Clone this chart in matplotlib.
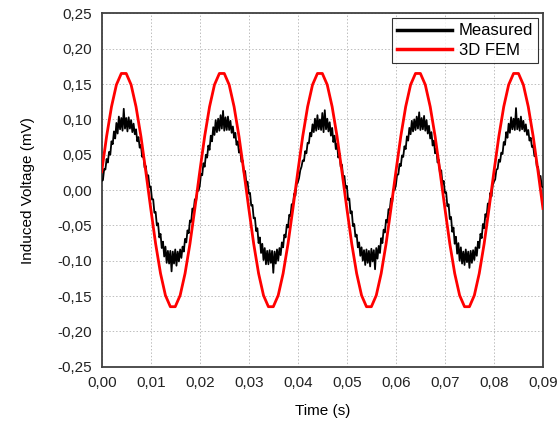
import matplotlib
matplotlib.use("Agg")
import matplotlib.pyplot as plt
import numpy as np
from matplotlib.ticker import FuncFormatter, MultipleLocator

plt.rcParams['font.family'] = ['Liberation Sans', 'DejaVu Sans']

# 3D FEM curve, sampled every 1 ms (0.000 .. 0.090 s)
fem_t_step = 0.001
fem_values = [
    0.026, 0.076, 0.118, 0.149, 0.165, 0.165, 0.149, 0.118, 0.076, 0.026,
    -0.026, -0.076, -0.118, -0.149, -0.165, -0.165, -0.149, -0.118, -0.076, -0.026,
    0.026, 0.076, 0.118, 0.149, 0.165, 0.165, 0.149, 0.118, 0.076, 0.026,
    -0.026, -0.076, -0.118, -0.149, -0.165, -0.165, -0.149, -0.118, -0.076, -0.026,
    0.026, 0.076, 0.118, 0.149, 0.165, 0.165, 0.149, 0.118, 0.076, 0.026,
    -0.026, -0.076, -0.118, -0.149, -0.165, -0.165, -0.149, -0.118, -0.076, -0.026,
    0.026, 0.076, 0.118, 0.149, 0.165, 0.165, 0.149, 0.118, 0.076, 0.026,
    -0.026, -0.076, -0.118, -0.149, -0.165, -0.165, -0.149, -0.118, -0.076, -0.026,
    0.026, 0.076, 0.118, 0.149, 0.165, 0.165, 0.149, 0.118, 0.076, 0.026,
    -0.026,
]

# Measured curve, sampled every 0.25 ms (0.00000 .. 0.09000 s)
meas_t_step = 0.00025
measured_values = [
    # 0.00 - 0.02 s
    0.013, 0.014, 0.030, 0.029, 0.044, 0.039, 0.054, 0.050, 0.069, 0.065,
    0.083, 0.073, 0.095, 0.080, 0.104, 0.086, 0.102, 0.084, 0.115, 0.087,
    0.102, 0.083, 0.103, 0.087, 0.099, 0.082, 0.094, 0.079, 0.086, 0.069,
    0.075, 0.060, 0.064, 0.047, 0.050, 0.032, 0.034, 0.017, 0.021, 0.004,
    0.005, -0.013, -0.013, -0.032, -0.031, -0.050, -0.047, -0.067, -0.062, -0.082,
    -0.073, -0.094, -0.080, -0.103, -0.086, -0.104, -0.086, -0.115, -0.087, -0.104,
    -0.084, -0.107, -0.087, -0.101, -0.084, -0.096, -0.080, -0.087, -0.069, -0.074,
    -0.057, -0.061, -0.043, -0.045, -0.026, -0.029, -0.013, -0.016, 0.000, -0.001,
    # 0.02 - 0.04 s
    0.006, 0.023, 0.021, 0.038, 0.033, 0.050, 0.046, 0.063, 0.057, 0.077,
    0.069, 0.089, 0.078, 0.099, 0.082, 0.101, 0.084, 0.106, 0.087, 0.112,
    0.084, 0.103, 0.085, 0.104, 0.085, 0.098, 0.081, 0.090, 0.074, 0.081,
    0.064, 0.069, 0.053, 0.058, 0.040, 0.042, 0.024, 0.027, 0.010, 0.012,
    -0.005, -0.004, -0.022, -0.021, -0.040, -0.039, -0.058, -0.054, -0.075, -0.067,
    -0.089, -0.076, -0.099, -0.082, -0.105, -0.086, -0.105, -0.085, -0.103, -0.086,
    -0.117, -0.087, -0.104, -0.084, -0.100, -0.082, -0.092, -0.074, -0.081, -0.063,
    -0.067, -0.049, -0.053, -0.035, -0.037, -0.020, -0.022, -0.005, -0.008, 0.008,
    # 0.04 - 0.06 s
    0.011, 0.017, 0.028, 0.033, 0.042, 0.041, 0.055, 0.052, 0.067, 0.066,
    0.081, 0.076, 0.093, 0.082, 0.101, 0.084, 0.106, 0.086, 0.100, 0.085,
    0.109, 0.082, 0.113, 0.086, 0.101, 0.083, 0.096, 0.077, 0.088, 0.068,
    0.077, 0.058, 0.066, 0.046, 0.052, 0.033, 0.036, 0.016, 0.020, 0.003,
    0.006, -0.014, -0.012, -0.033, -0.030, -0.051, -0.048, -0.066, -0.063, -0.081,
    -0.074, -0.093, -0.081, -0.100, -0.085, -0.106, -0.084, -0.103, -0.086, -0.108,
    -0.083, -0.101, -0.085, -0.112, -0.082, -0.097, -0.079, -0.089, -0.068, -0.075,
    -0.056, -0.060, -0.042, -0.046, -0.027, -0.028, -0.012, -0.017, 0.001, 0.000,
    # 0.06 - 0.08 s
    0.007, 0.022, 0.022, 0.037, 0.034, 0.049, 0.047, 0.062, 0.058, 0.076,
    0.070, 0.088, 0.079, 0.098, 0.083, 0.100, 0.085, 0.104, 0.087, 0.110,
    0.085, 0.102, 0.086, 0.105, 0.084, 0.099, 0.080, 0.091, 0.073, 0.082,
    0.063, 0.070, 0.052, 0.059, 0.039, 0.043, 0.023, 0.028, 0.009, 0.013,
    -0.004, -0.003, -0.023, -0.020, -0.041, -0.038, -0.059, -0.053, -0.076, -0.066,
    -0.090, -0.075, -0.100, -0.081, -0.104, -0.087, -0.106, -0.084, -0.102, -0.087,
    -0.110, -0.086, -0.103, -0.085, -0.099, -0.081, -0.093, -0.073, -0.082, -0.062,
    -0.068, -0.048, -0.054, -0.034, -0.038, -0.019, -0.023, -0.004, -0.009, 0.007,
    # 0.08 - 0.09 s
    0.012, 0.015, 0.029, 0.030, 0.043, 0.040, 0.053, 0.051, 0.068, 0.064,
    0.082, 0.074, 0.094, 0.081, 0.103, 0.086, 0.101, 0.085, 0.116, 0.086,
    0.101, 0.084, 0.104, 0.086, 0.098, 0.083, 0.093, 0.078, 0.085, 0.070,
    0.074, 0.061, 0.063, 0.048, 0.049, 0.033, 0.033, 0.018, 0.020, 0.005,
    0.004,
]

series_labels = ["Measured", "3D FEM"]
x_label = "Time (s)"
y_label = "Induced Voltage (mV)"

fem_t = np.arange(len(fem_values)) * fem_t_step
meas_t = np.arange(len(measured_values)) * meas_t_step

fig = plt.figure(figsize=(5.6, 4.32), dpi=100)
ax = fig.add_axes([0.1816, 0.151, 0.788, 0.818])

ax.plot(meas_t, measured_values, color='black', lw=1.3, label=series_labels[0], zorder=3)
ax.plot(fem_t, fem_values, color='#ff0000', lw=2.0, label=series_labels[1], zorder=4)

fmt = FuncFormatter(lambda v, p: f"{v:.2f}".replace('.', ',').replace('-0,00', '0,00'))
ax.set_xlim(0, 0.09)
ax.set_ylim(-0.25, 0.25)
ax.xaxis.set_major_locator(MultipleLocator(0.01))
ax.yaxis.set_major_locator(MultipleLocator(0.05))
ax.xaxis.set_major_formatter(fmt)
ax.yaxis.set_major_formatter(fmt)
ax.tick_params(length=0, labelsize=11, colors='#222222', pad=7)

ax.grid(True, color='#bdbdbd', linestyle=(0, (1.5, 2)), linewidth=0.7)
for s in ax.spines.values():
    s.set_color('#404040')
    s.set_linewidth(1.3)

ax.set_xlabel(x_label, fontsize=11, labelpad=10)
ax.set_ylabel(y_label, fontsize=11, labelpad=16)

leg = ax.legend(loc='upper right', fontsize=12, frameon=True, fancybox=False,
                edgecolor='black', handlelength=3.3, borderpad=0.3, labelspacing=0.25,
                handletextpad=0.4, borderaxespad=0.3)
leg.get_frame().set_linewidth(0.8)
for line in leg.get_lines():
    line.set_linewidth(2.5)

fig.savefig("out.png", dpi=100, facecolor='white')
